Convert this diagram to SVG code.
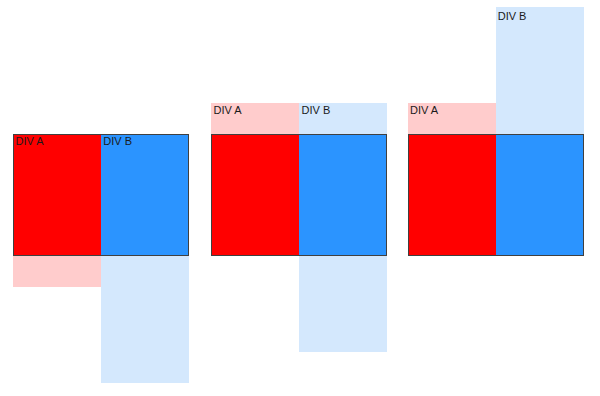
<svg xmlns="http://www.w3.org/2000/svg" width="600" height="396" viewBox="0 0 600 396">
<style>
.pa{fill:#ffcccc}
.pb{fill:#d4e8fd}
.ra{fill:#ff0000}
.rb{fill:#2b94ff}
.frame{fill:none;stroke:#404040;stroke-width:1}
.lbl{font-family:"Liberation Sans",Arial,sans-serif;font-size:11px;fill:#1a1a1a}
</style>
<rect width="600" height="396" fill="#ffffff"/>
<g id="panel1">
  <g id="p1-divA-overflow"><rect class="pa" x="13" y="134" width="88" height="153"/></g>
  <g id="p1-divB-overflow"><rect class="pb" x="101" y="134" width="88" height="249"/></g>
  <g id="p1-divA"><rect class="ra" x="13" y="134" width="88" height="122"/></g>
  <g id="p1-divB"><rect class="rb" x="101" y="134" width="88" height="122"/></g>
  <rect class="frame" x="13.5" y="134.5" width="175" height="121"/>
  <text class="lbl" x="15.5" y="145">DIV A</text>
  <text class="lbl" x="103.3" y="145">DIV B</text>
</g>
<g id="panel2">
  <g id="p2-divA-overflow"><rect class="pa" x="211" y="103" width="88" height="153"/></g>
  <g id="p2-divB-overflow"><rect class="pb" x="299" y="103" width="88" height="249"/></g>
  <g id="p2-divA"><rect class="ra" x="211" y="134" width="88" height="122"/></g>
  <g id="p2-divB"><rect class="rb" x="299" y="134" width="88" height="122"/></g>
  <rect class="frame" x="211.5" y="134.5" width="175" height="121"/>
  <text class="lbl" x="213.5" y="114">DIV A</text>
  <text class="lbl" x="301.5" y="114">DIV B</text>
</g>
<g id="panel3">
  <g id="p3-divA-overflow"><rect class="pa" x="408" y="103" width="88" height="153"/></g>
  <g id="p3-divB-overflow"><rect class="pb" x="496" y="7" width="88" height="249"/></g>
  <g id="p3-divA"><rect class="ra" x="408" y="134" width="88" height="122"/></g>
  <g id="p3-divB"><rect class="rb" x="496" y="134" width="88" height="122"/></g>
  <rect class="frame" x="408.5" y="134.5" width="175" height="121"/>
  <text class="lbl" x="410" y="114">DIV A</text>
  <text class="lbl" x="497.7" y="20">DIV B</text>
</g>
<g id="connectors"/>
</svg>
